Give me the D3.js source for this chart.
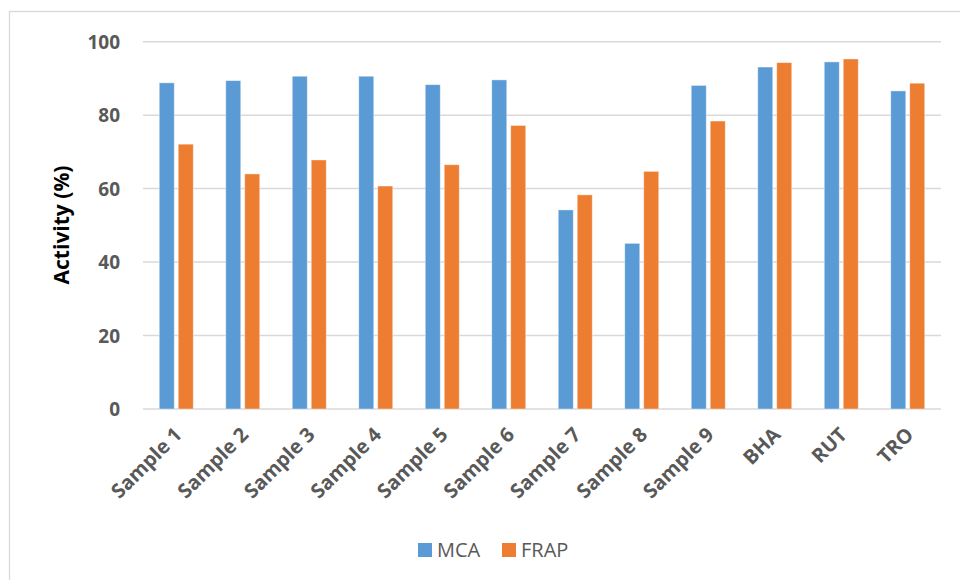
<!DOCTYPE html>
<html>
<head>
<meta charset="utf-8">
<script src="https://cdn.jsdelivr.net/npm/d3@7"></script>
<style>
  html, body { margin: 0; padding: 0; background: #fff; }
  svg { display: block; }
</style>
</head>
<body>
<svg id="chart" width="960" height="580"></svg>
<script>
// Antioxidant activity of samples and reference compounds
const categories = ["Sample 1", "Sample 2", "Sample 3", "Sample 4", "Sample 5", "Sample 6",
                    "Sample 7", "Sample 8", "Sample 9", "BHA", "RUT", "TRO"];
const seriesNames = ["MCA", "FRAP"];
const mcaValues  = [88.8, 89.4, 90.6, 90.6, 88.3, 89.6, 54.2, 45.1, 88.1, 93.1, 94.5, 86.6];
const frapValues = [72.1, 64.0, 67.8, 60.7, 66.5, 77.2, 58.3, 64.7, 78.4, 94.3, 95.3, 88.7];
const yTicks = [0, 20, 40, 60, 80, 100];
const colors = ["#5B9BD5", "#ED7D31"];

const rows = categories.map((c, i) => ({ cat: c, values: [mcaValues[i], frapValues[i]] }));

const svg = d3.select("#chart");
const font = "'Open Sans', 'DejaVu Sans', sans-serif";

// Chart frame
svg.append("rect")
  .attr("x", 9.5).attr("y", 11.5)
  .attr("width", 960).attr("height", 580)
  .attr("fill", "none").attr("stroke", "#d9d9d9").attr("stroke-width", 1.3);

const plotLeft = 143, plotRight = 941, plotTop = 41.7, plotBottom = 409;

const x0 = d3.scaleBand().domain(categories).range([plotLeft, plotRight])
  .paddingInner(0.489).paddingOuter(0.489 / 2);
const x1 = d3.scaleBand().domain(seriesNames).range([0, x0.bandwidth()]).paddingInner(0.21);
const y = d3.scaleLinear().domain([0, 100]).range([plotBottom, plotTop]);

// Gridlines
svg.append("g").selectAll("line").data(yTicks).join("line")
  .attr("x1", plotLeft).attr("x2", plotRight)
  .attr("y1", d => y(d)).attr("y2", d => y(d))
  .attr("stroke", "#d9d9d9").attr("stroke-width", 1.5);

// Y axis tick labels
const yAxis = d3.axisLeft(y).tickValues(yTicks).tickSize(0).tickPadding(0);
const gy = svg.append("g").attr("transform", "translate(120,0)").call(yAxis);
gy.select(".domain").remove();
gy.selectAll("text")
  .attr("font-family", font).attr("font-size", 19).attr("font-weight", "bold")
  .attr("fill", "#595959").attr("dy", "0.35em");

// Y axis title
svg.append("text")
  .attr("transform", "translate(62,225) rotate(-90)")
  .attr("text-anchor", "middle")
  .attr("dy", "0.35em")
  .attr("font-family", font).attr("font-size", 21).attr("font-weight", "bold")
  .attr("fill", "#000")
  .text("Activity (%)");

// Bars
const groups = svg.append("g").selectAll("g").data(rows).join("g")
  .attr("transform", d => `translate(${x0(d.cat)},0)`);
groups.selectAll("rect").data(d => d.values.map((v, i) => ({ key: seriesNames[i], v, i })))
  .join("rect")
  .attr("x", d => x1(d.key))
  .attr("width", x1.bandwidth())
  .attr("y", d => y(d.v))
  .attr("height", d => y(0) - y(d.v))
  .attr("fill", d => colors[d.i])
  .attr("stroke", "#fff").attr("stroke-opacity", 0.5).attr("stroke-width", 0.8);

// X axis category labels, rotated
const xAxis = d3.axisBottom(x0).tickSize(0).tickPadding(0);
const gx = svg.append("g").attr("transform", `translate(0,${plotBottom})`).call(xAxis);
gx.select(".domain").remove();
gx.selectAll("text")
  .attr("font-family", font).attr("font-size", 20).attr("font-weight", "bold")
  .attr("fill", "#595959")
  .attr("text-anchor", "end")
  .attr("dy", "0.35em")
  .attr("transform", "translate(2,22) rotate(-45)");

// Legend
const legend = svg.append("g");
const legendX = [418, 502];
seriesNames.forEach((name, i) => {
  legend.append("rect")
    .attr("x", legendX[i]).attr("y", 543)
    .attr("width", 14).attr("height", 14)
    .attr("fill", colors[i]);
  legend.append("text")
    .attr("x", legendX[i] + 19).attr("y", 550)
    .attr("dy", "0.35em")
    .attr("font-family", font).attr("font-size", 20)
    .attr("fill", "#595959")
    .text(name);
});
</script>
</body>
</html>
